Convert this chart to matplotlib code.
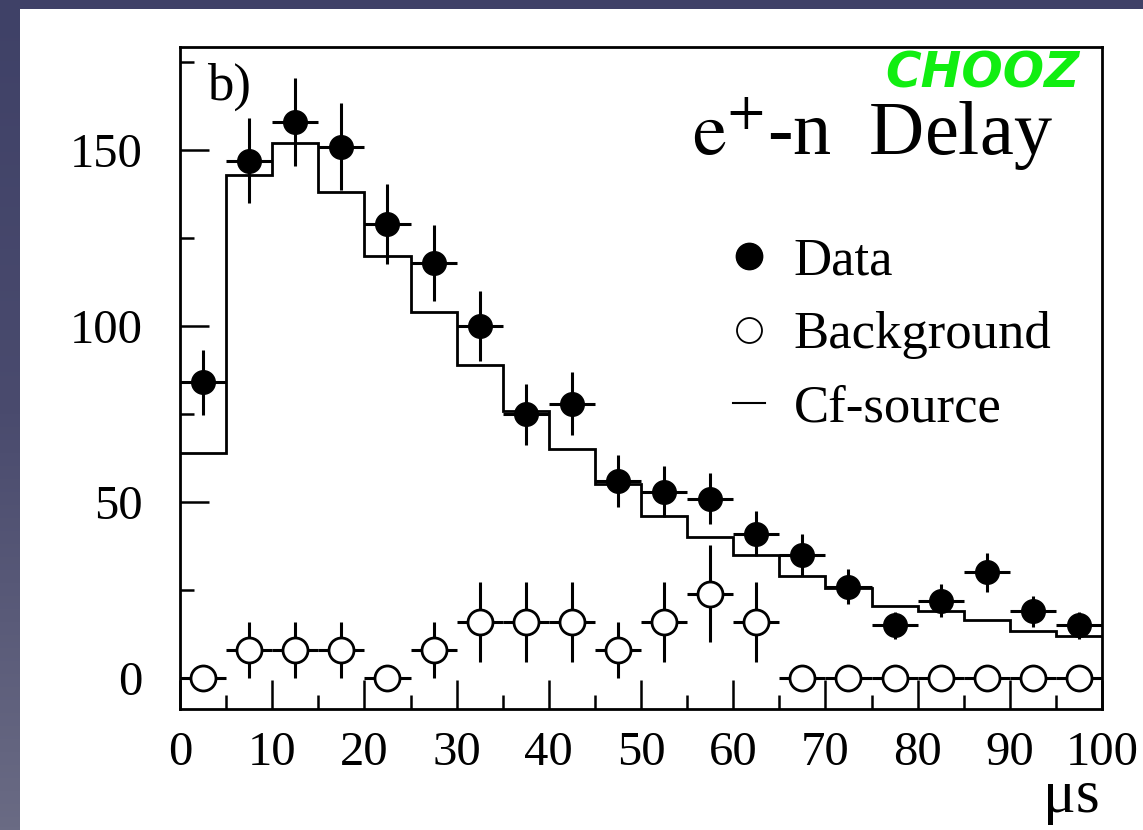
import numpy as np
import matplotlib
matplotlib.use('Agg')
import matplotlib.pyplot as plt
from matplotlib.lines import Line2D
from matplotlib.patches import Rectangle
from matplotlib.colors import LinearSegmentedColormap

plt.rcParams['font.family'] = ['Liberation Serif', 'DejaVu Serif']
plt.rcParams['mathtext.fontset'] = 'stix'

# delay bins (microseconds)
bin_edges = [0, 5, 10, 15, 20, 25, 30, 35, 40, 45, 50,
             55, 60, 65, 70, 75, 80, 85, 90, 95, 100]
bin_centers = [2.5, 7.5, 12.5, 17.5, 22.5, 27.5, 32.5, 37.5, 42.5, 47.5,
               52.5, 57.5, 62.5, 67.5, 72.5, 77.5, 82.5, 87.5, 92.5, 97.5]

data_counts = [84, 147, 158, 151, 129, 118, 100, 75, 78, 56,
               53, 51, 41, 35, 26, 15, 22, 30, 19, 15]
bkg_counts = [0, 8, 8, 8, 0, 8, 16, 16, 16, 8,
              16, 24, 16, 0, 0, 0, 0, 0, 0, 0]
cf_source = [64, 143, 152, 138, 120, 104, 89, 76, 65, 55,
             46, 40, 35, 29, 25.5, 20.5, 19, 16.5, 13.5, 12]

x_ticks = [0, 10, 20, 30, 40, 50, 60, 70, 80, 90, 100]
y_ticks = [0, 50, 100, 150]

W, H = 1143, 830
fig = plt.figure(figsize=(W / 100, H / 100), dpi=100)

# slide-style backdrop: dark bluish gradient with a white panel
bg = fig.add_axes([0, 0, 1, 1])
bg.axis('off')
cmap = LinearSegmentedColormap.from_list('bg', ['#3f4167', '#4a4b6e', '#6a6b84'])
grad = np.linspace(0, 1, 256).reshape(-1, 1)
bg.imshow(grad, cmap=cmap, aspect='auto', extent=[0, 1, 0, 1], origin='upper')
bg.add_patch(Rectangle((20 / W, 0), 1, 1 - 9 / H, transform=bg.transAxes,
                       facecolor='white', edgecolor='none'))
bg.set_xlim(0, 1)
bg.set_ylim(0, 1)

ax = fig.add_axes([180 / W, 1 - 709 / H, (1102 - 180) / W, (709 - 47) / H])
ax.set_facecolor('none')

data_err = np.sqrt(data_counts)
bkg_err = np.sqrt(np.array(bkg_counts) * 8.0)

ax.stairs(cf_source, bin_edges, color='black', linewidth=2.0, baseline=None, zorder=2)

ax.errorbar(bin_centers, bkg_counts, xerr=2.5, yerr=bkg_err, fmt='o',
            ms=18, mfc='white', mec='black', mew=2.0, ecolor='black',
            elinewidth=2.2, capsize=0, zorder=3)
ax.errorbar(bin_centers, data_counts, xerr=2.5, yerr=data_err, fmt='o',
            ms=17, mfc='black', mec='black', ecolor='black',
            elinewidth=2.2, capsize=0, zorder=4)

ax.set_xlim(0, 100)
ax.set_ylim(-8.8, 179.3)
ax.set_xticks(x_ticks)
ax.set_yticks(y_ticks)
ax.set_xticks(bin_edges[1::2], minor=True)
ax.set_yticks([25, 75, 125, 175], minor=True)
ax.tick_params(which='both', direction='in', top=False, right=False, width=1.8,
               labelsize=35)
ax.tick_params(which='major', length=21)
ax.tick_params(which='minor', length=10)
ax.tick_params(axis='y', pad=27)
ax.tick_params(axis='x', pad=16)
for sp in ax.spines.values():
    sp.set_linewidth(2.0)

ax.text(0.029, 0.920, 'b)', transform=ax.transAxes, fontsize=38,
        va='baseline', ha='left')
ax.text(0.947, 0.838, r'$\mathrm{e}^{+}$-n  Delay', transform=ax.transAxes,
        fontsize=55, va='baseline', ha='right')

handles = [
    Line2D([], [], marker='o', ls='', color='black', ms=19),
    Line2D([], [], marker='o', ls='', mfc='white', mec='black', mew=1.3, ms=18),
    Line2D([], [], color='black', lw=1.5),
]
ax.legend(handles, ['Data', 'Background', 'Cf-source'], loc='upper left',
          bbox_to_anchor=(0.600, 0.712), frameon=False, fontsize=38,
          handlelength=0.6, handletextpad=0.55, labelspacing=0.48,
          borderpad=0, borderaxespad=0)

fig.text(1080 / W, 1 - 88 / H, 'CHOOZ', color='#11ee11', fontsize=35,
         fontweight='bold', fontstyle='italic', family='DejaVu Sans',
         ha='right', va='baseline')
fig.text(1100 / W, 1 - 812 / H, 'μs', fontsize=44, ha='right', va='baseline')

fig.savefig('out.png', dpi=100)
